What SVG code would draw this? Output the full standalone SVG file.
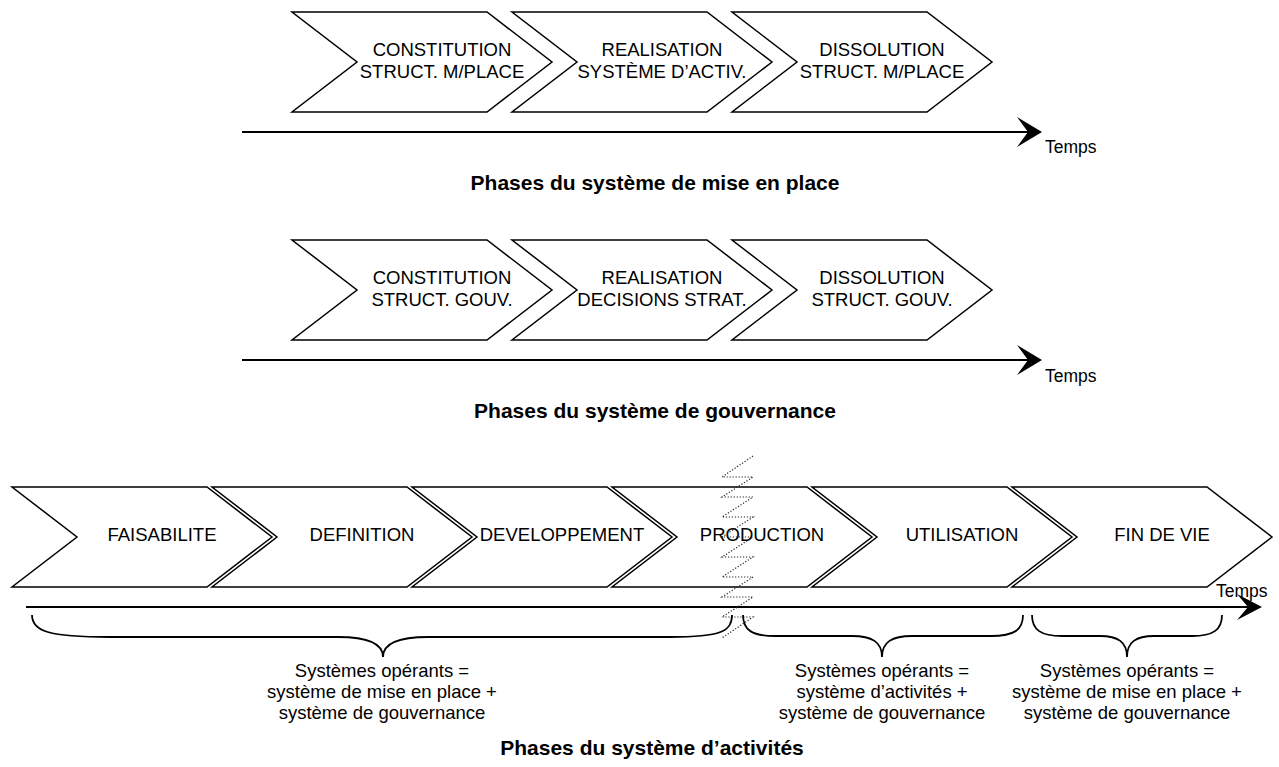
<svg xmlns="http://www.w3.org/2000/svg" width="1279" height="767" viewBox="0 0 1279 767">
<style>
.chev{fill:#fff;stroke:#000;stroke-width:1.5;stroke-linejoin:miter}
.axis{fill:none;stroke:#000;stroke-width:2}
.head{fill:#000;stroke:none}
.brace{fill:none;stroke:#000;stroke-width:1.8}
.zig{fill:none;stroke:#222;stroke-width:1.2;stroke-dasharray:1.2 1.8}
.lbl{font-family:"Liberation Sans",Arial,sans-serif;font-size:18.5px;fill:#000;text-anchor:middle}
.tmp{font-family:"Liberation Sans",Arial,sans-serif;font-size:17.5px;fill:#000}
.ttl{font-family:"Liberation Sans",Arial,sans-serif;font-size:21px;font-weight:bold;fill:#000;text-anchor:middle}
</style>
<rect width="1279" height="767" fill="#fff"/>

<!-- Row 1: système de mise en place -->
<g id="r1-constitution">
<polygon class="chev" points="292,12 487,12 552,62 487,112 292,112 357,62"/>
<text class="lbl" x="442" y="56">CONSTITUTION</text>
<text class="lbl" x="442" y="78">STRUCT. M/PLACE</text>
</g>
<g id="r1-realisation">
<polygon class="chev" points="512,12 707,12 772,62 707,112 512,112 577,62"/>
<text class="lbl" x="662" y="56">REALISATION</text>
<text class="lbl" x="662" y="78">SYSTÈME D’ACTIV.</text>
</g>
<g id="r1-dissolution">
<polygon class="chev" points="732,12 927,12 992,62 927,112 732,112 797,62"/>
<text class="lbl" x="882" y="56">DISSOLUTION</text>
<text class="lbl" x="882" y="78">STRUCT. M/PLACE</text>
</g>

<!-- Row 2: système de gouvernance -->
<g id="r2-constitution">
<polygon class="chev" points="292,240 487,240 552,290 487,340 292,340 357,290"/>
<text class="lbl" x="442" y="284">CONSTITUTION</text>
<text class="lbl" x="442" y="306">STRUCT. GOUV.</text>
</g>
<g id="r2-realisation">
<polygon class="chev" points="512,240 707,240 772,290 707,340 512,340 577,290"/>
<text class="lbl" x="662" y="284">REALISATION</text>
<text class="lbl" x="662" y="306">DECISIONS STRAT.</text>
</g>
<g id="r2-dissolution">
<polygon class="chev" points="732,240 927,240 992,290 927,340 732,340 797,290"/>
<text class="lbl" x="882" y="284">DISSOLUTION</text>
<text class="lbl" x="882" y="306">STRUCT. GOUV.</text>
</g>

<!-- Row 3: système d'activités -->
<g id="r3-faisabilite">
<polygon class="chev" points="12,487 207,487 272,537 207,587 12,587 77,537"/>
<text class="lbl" x="162" y="541">FAISABILITE</text>
</g>
<g id="r3-definition">
<polygon class="chev" points="212,487 407,487 472,537 407,587 212,587 277,537"/>
<text class="lbl" x="362" y="541">DEFINITION</text>
</g>
<g id="r3-developpement">
<polygon class="chev" points="412,487 607,487 672,537 607,587 412,587 477,537"/>
<text class="lbl" x="562" y="541">DEVELOPPEMENT</text>
</g>
<g id="r3-production">
<polygon class="chev" points="612,487 807,487 872,537 807,587 612,587 677,537"/>
<text class="lbl" x="762" y="541">PRODUCTION</text>
</g>
<g id="r3-utilisation">
<polygon class="chev" points="812,487 1007,487 1072,537 1007,587 812,587 877,537"/>
<text class="lbl" x="962" y="541">UTILISATION</text>
</g>
<g id="r3-findevie">
<polygon class="chev" points="1012,487 1207,487 1272,537 1207,587 1012,587 1077,537"/>
<text class="lbl" x="1162" y="541">FIN DE VIE</text>
</g>

<!-- Connectors: time axes -->
<g id="connectors">
<line class="axis" x1="242" y1="132" x2="1030" y2="132"/>
<path class="head" d="M1042,132 L1017,117 L1028,132 L1017,147 Z"/>
<line class="axis" x1="242" y1="360" x2="1030" y2="360"/>
<path class="head" d="M1042,360 L1017,345 L1028,360 L1017,375 Z"/>
<line class="axis" x1="26" y1="607" x2="1250" y2="607"/>
<path class="head" d="M1262,607 L1237,594 L1248,607 L1237,620 Z"/>
</g>

<g id="time-labels">
<text class="tmp" x="1045" y="153">Temps</text>
<text class="tmp" x="1045" y="382">Temps</text>
<text class="tmp" x="1216" y="597">Temps</text>
</g>

<!-- Dotted zigzag break -->
<g id="break">
<polyline class="zig" points="753,456 722,477 753,477 722,497 753,497 722,517 753,517 722,537 753,537 722,557 753,557 722,577 753,577 722,597 753,597 722,617 753,617 722,638"/>
</g>

<!-- Braces -->
<g id="brace-1">
<path class="brace" d="M32,615 C32,631 48,637 110,637 L338,637 C368,637 383,643 383,657 C383,643 398,637 428,637 L670,637 C722,637 732,631 732,615"/>
<text class="lbl" x="382" y="677">Systèmes opérants =</text>
<text class="lbl" x="382" y="698">système de mise en place +</text>
<text class="lbl" x="382" y="719">système de gouvernance</text>
</g>
<g id="brace-2">
<path class="brace" d="M743,615 C743,630 752,636 775,636 L852,636 C872,636 882,642 882,657 C882,642 892,636 912,636 L991,636 C1014,636 1023,630 1023,615"/>
<text class="lbl" x="882" y="677">Systèmes opérants =</text>
<text class="lbl" x="882" y="698">système d’activités +</text>
<text class="lbl" x="882" y="719">système de gouvernance</text>
</g>
<g id="brace-3">
<path class="brace" d="M1032,615 C1032,630 1041,636 1062,636 L1100,636 C1118,636 1127,642 1127,657 C1127,642 1136,636 1154,636 L1192,636 C1213,636 1222,630 1222,615"/>
<text class="lbl" x="1127" y="677">Systèmes opérants =</text>
<text class="lbl" x="1127" y="698">système de mise en place +</text>
<text class="lbl" x="1127" y="719">système de gouvernance</text>
</g>

<!-- Titles -->
<g id="titles">
<text class="ttl" x="655" y="190">Phases du système de mise en place</text>
<text class="ttl" x="655" y="418">Phases du système de gouvernance</text>
<text class="ttl" x="652" y="755">Phases du système d’activités</text>
</g>
</svg>
